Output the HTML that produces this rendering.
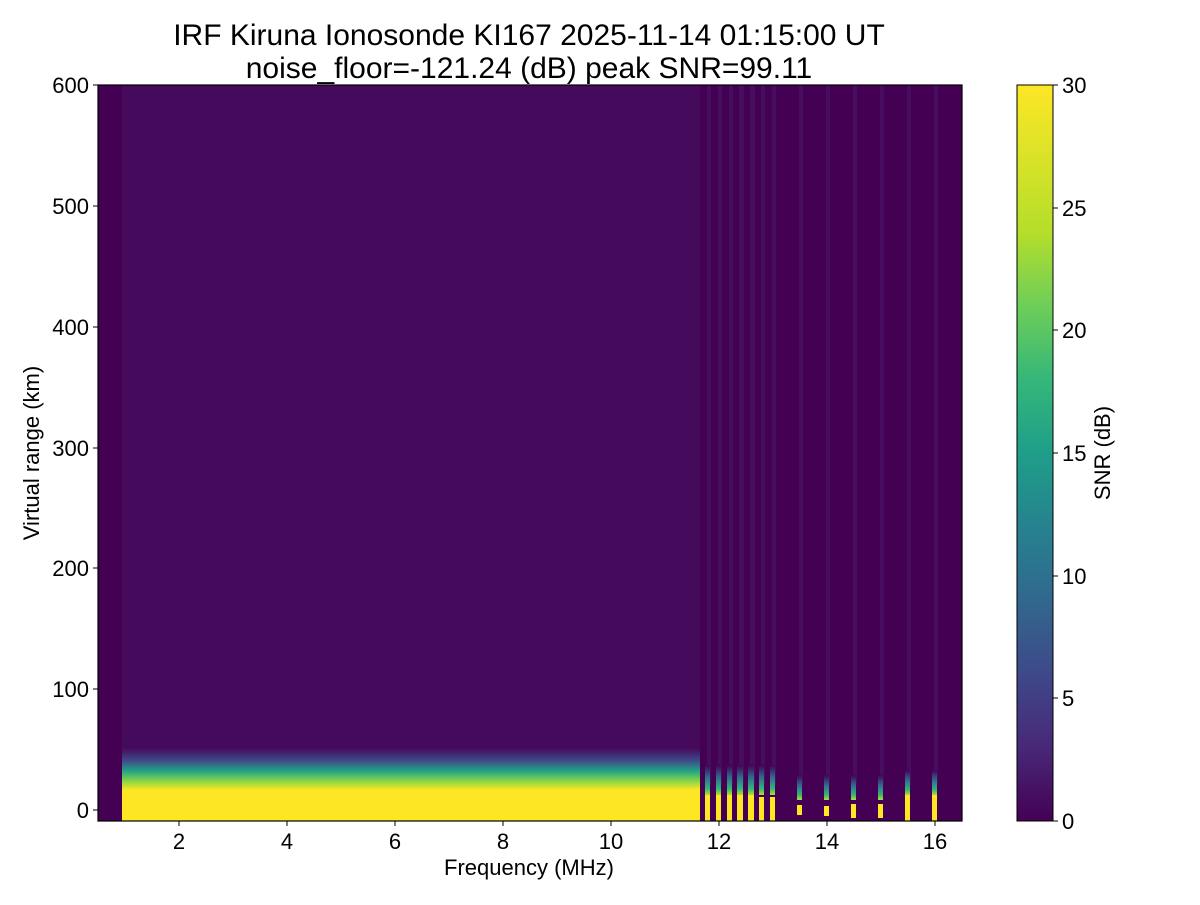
<!DOCTYPE html>
<html><head><meta charset="utf-8"><style>
body{margin:0;background:#fff;font-family:"Liberation Sans","DejaVu Sans",sans-serif}
</style></head><body>
<svg width="1200" height="900" xmlns="http://www.w3.org/2000/svg" font-family="Liberation Sans, DejaVu Sans, sans-serif">
<defs>
<linearGradient id="vir" x1="0" y1="1" x2="0" y2="0">
<stop offset="0" stop-color="#440154"/><stop offset="0.1" stop-color="#482878"/><stop offset="0.2" stop-color="#3e4989"/><stop offset="0.3" stop-color="#31688e"/><stop offset="0.4" stop-color="#26828e"/><stop offset="0.5" stop-color="#1f9e89"/><stop offset="0.6" stop-color="#35b779"/><stop offset="0.7" stop-color="#6ece58"/><stop offset="0.8" stop-color="#b5de2b"/><stop offset="1" stop-color="#fde725"/>
</linearGradient>
<linearGradient id="band" x1="0" y1="0" x2="0" y2="1">
<stop offset="0" stop-color="#46095c"/><stop offset="0.3" stop-color="#3e4a89"/><stop offset="0.55" stop-color="#22a585"/><stop offset="0.8" stop-color="#8fd744"/><stop offset="1" stop-color="#fde725"/>
</linearGradient>
<linearGradient id="col" x1="0" y1="0" x2="0" y2="1">
<stop offset="0" stop-color="#440154"/><stop offset="0.4" stop-color="#31688e"/><stop offset="0.8" stop-color="#35b779"/><stop offset="1" stop-color="#b5de2b"/>
</linearGradient>
</defs>
<rect x="98" y="85" width="864" height="736" fill="#440154"/>
<rect x="122" y="85" width="578" height="736" fill="#460a5c"/>
<g fill="#4a1a6c" opacity="0.5">
<rect x="707" y="85" width="4" height="700"/><rect x="718" y="85" width="4" height="700"/><rect x="729" y="85" width="4" height="700"/><rect x="739" y="85" width="5" height="700"/><rect x="750" y="85" width="5" height="700"/><rect x="761" y="85" width="4" height="700"/><rect x="772" y="85" width="4" height="700"/><rect x="799" y="85" width="4" height="700"/><rect x="826" y="85" width="4" height="700"/><rect x="853" y="85" width="4" height="700"/><rect x="880" y="85" width="4" height="700"/><rect x="907" y="85" width="4" height="700"/><rect x="934" y="85" width="4" height="700"/>
</g>
<rect x="122" y="748" width="578" height="42" fill="url(#band)"/>
<rect x="122" y="790" width="578" height="31" fill="#fde725"/>
<g fill="url(#col)">
<rect x="705" y="765" width="5" height="30"/><rect x="716" y="765" width="5" height="30"/><rect x="727" y="765" width="5" height="30"/><rect x="737" y="765" width="6" height="30"/><rect x="748" y="765" width="6" height="30"/><rect x="759" y="765" width="5" height="30"/><rect x="770" y="765" width="5" height="30"/>
<rect x="797" y="775" width="5" height="25"/><rect x="824" y="775" width="5" height="25"/><rect x="851" y="775" width="5" height="25"/><rect x="878" y="775" width="5" height="25"/><rect x="905" y="770" width="5" height="25"/><rect x="932" y="770" width="5" height="25"/>
</g>
<g fill="#fde725">
<rect x="705" y="795" width="5" height="26"/><rect x="716" y="795" width="5" height="26"/><rect x="727" y="795" width="5" height="26"/><rect x="737" y="795" width="6" height="26"/><rect x="748" y="795" width="6" height="26"/><rect x="759" y="797" width="5" height="24"/><rect x="770" y="797" width="5" height="24"/>
<rect x="797" y="805" width="5" height="10"/><rect x="824" y="806" width="5" height="10"/><rect x="851" y="804" width="5" height="14"/><rect x="878" y="804" width="5" height="14"/><rect x="905" y="795" width="5" height="26"/><rect x="932" y="795" width="5" height="26"/>
</g>
<rect x="98" y="85" width="864" height="736" fill="none" stroke="#000" stroke-width="1.2"/>
<g stroke="#000" stroke-width="1">
<line x1="179" y1="821" x2="179" y2="826"/><line x1="287" y1="821" x2="287" y2="826"/><line x1="395" y1="821" x2="395" y2="826"/><line x1="503" y1="821" x2="503" y2="826"/><line x1="611" y1="821" x2="611" y2="826"/><line x1="719" y1="821" x2="719" y2="826"/><line x1="827" y1="821" x2="827" y2="826"/><line x1="935" y1="821" x2="935" y2="826"/>
<line x1="93" y1="810" x2="98" y2="810"/><line x1="93" y1="689" x2="98" y2="689"/><line x1="93" y1="568" x2="98" y2="568"/><line x1="93" y1="448" x2="98" y2="448"/><line x1="93" y1="327" x2="98" y2="327"/><line x1="93" y1="206" x2="98" y2="206"/><line x1="93" y1="85" x2="98" y2="85"/>
</g>
<g font-size="22" text-anchor="middle">
<text x="179" y="849">2</text><text x="287" y="849">4</text><text x="395" y="849">6</text><text x="503" y="849">8</text><text x="611" y="849">10</text><text x="719" y="849">12</text><text x="827" y="849">14</text><text x="935" y="849">16</text>
</g>
<g font-size="22" text-anchor="end">
<text x="89" y="818">0</text><text x="89" y="697">100</text><text x="89" y="576">200</text><text x="89" y="456">300</text><text x="89" y="335">400</text><text x="89" y="214">500</text><text x="89" y="93">600</text>
</g>
<text x="529" y="875" font-size="22" text-anchor="middle">Frequency (MHz)</text>
<text transform="translate(39,453) rotate(-90)" font-size="22" text-anchor="middle">Virtual range (km)</text>
<text x="529" y="45" font-size="30" text-anchor="middle">IRF Kiruna Ionosonde KI167 2025-11-14 01:15:00  UT</text>
<text x="529" y="78" font-size="30" text-anchor="middle">noise_floor=-121.24 (dB) peak SNR=99.11</text>
<rect x="1017" y="85" width="36" height="736" fill="url(#vir)" stroke="#000" stroke-width="1"/>
<g stroke="#000"><line x1="1053" y1="821" x2="1058" y2="821"/><line x1="1053" y1="698" x2="1058" y2="698"/><line x1="1053" y1="576" x2="1058" y2="576"/><line x1="1053" y1="453" x2="1058" y2="453"/><line x1="1053" y1="330" x2="1058" y2="330"/><line x1="1053" y1="208" x2="1058" y2="208"/><line x1="1053" y1="85" x2="1058" y2="85"/></g>
<g font-size="22">
<text x="1062" y="829">0</text><text x="1062" y="706">5</text><text x="1062" y="584">10</text><text x="1062" y="461">15</text><text x="1062" y="338">20</text><text x="1062" y="216">25</text><text x="1062" y="93">30</text>
</g>
<text transform="translate(1110,453) rotate(-90)" font-size="22" text-anchor="middle">SNR (dB)</text>
</svg>
</body></html>
